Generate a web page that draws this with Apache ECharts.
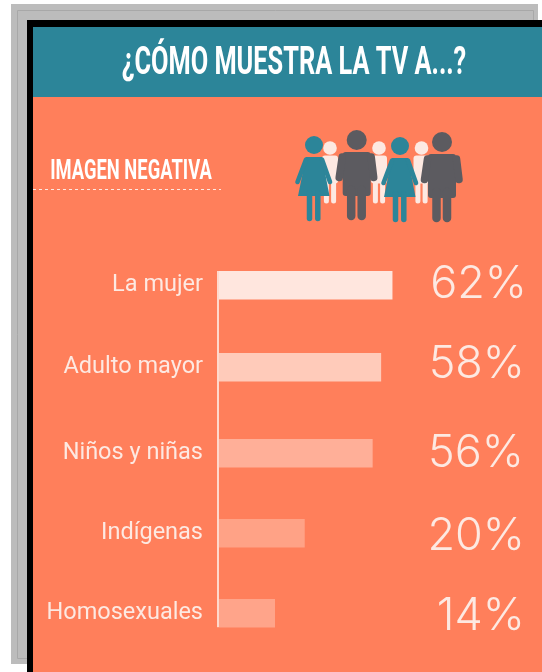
<!DOCTYPE html>
<html><head><meta charset="utf-8">
<style>html,body{margin:0;padding:0;background:#fff}#c{width:542px;height:672px}</style>
<script src="https://cdn.jsdelivr.net/npm/echarts@6/dist/echarts.min.js"></script>
</head><body><div id="c"></div>
<script>
const title = '¿CÓMO MUESTRA LA TV A...?';
const subtitle = 'IMAGEN NEGATIVA';
const categories = ['La mujer', 'Adulto mayor', 'Niños y niñas', 'Indígenas', 'Homosexuales'];
// Printed percentages
const printedValues = [62, 58, 56, 20, 14];
// Bar lengths as drawn in the picture (the original's short bars are not to scale with their labels)
const barLengths = [62, 58, 55, 31, 20.5];
const barColors = ['#ffe6de', '#ffcbba', '#ffaf98', '#ffa286', '#ffa48a'];

// layout
const rowTops = [271, 353, 439, 519, 599];
const rowH = 28.5;
const valueY = [284, 364, 453, 536, 616];
const valueRight = [527, 525, 524, 525, 525];
const catShift = [4, 4, 6, 3, 6];
const CREAM = '#fde9e2', TEAL = '#2c8599', DARK = '#5c5b60', ORANGE = '#ff7f5b';

const chart = echarts.init(document.getElementById('c'), null, {renderer: 'canvas'});

const line = (pts, color, w) => ({type: 'polyline', shape: {points: pts}, style: {stroke: color, lineWidth: w, lineCap: 'round', lineJoin: 'round', fill: null}});
const poly = (pts, color) => ({type: 'polygon', shape: {points: pts}, style: {fill: color}});
const head = (r, color) => ({type: 'circle', shape: {cx: 0, cy: 0, r}, style: {fill: color}});

function child(x, y) {
  return {type: 'group', x, y, children: [
    head(6.8, CREAM),
    {type: 'rect', shape: {x: -8, y: 7.5, width: 16, height: 28, r: 3}, style: {fill: CREAM}},
    line([[-3.6, 30], [-3.6, 53]], CREAM, 5), line([[3.6, 30], [3.6, 53]], CREAM, 5)
  ]};
}
function woman(x, y) {
  return {type: 'group', x, y, children: [
    head(9, TEAL),
    poly([[-8, 12], [8, 12], [15.5, 51], [-16, 51]], TEAL),
    line([[-8, 14.5], [-16.5, 37]], TEAL, 4.6), line([[8, 14.5], [16, 37]], TEAL, 4.6),
    line([[-4.5, 48], [-4.5, 73.5]], TEAL, 5.5), line([[3.8, 48], [3.8, 73.5]], TEAL, 5.5)
  ]};
}
function man(x, y) {
  return {type: 'group', x, y, children: [
    head(10, DARK),
    {type: 'rect', shape: {x: -14, y: 12, width: 28, height: 44, r: 3}, style: {fill: DARK}},
    line([[-14.5, 17], [-17.5, 37.5]], DARK, 7.5), line([[14.5, 17], [17, 37.5]], DARK, 7.5),
    line([[-5.5, 50], [-5.5, 76]], DARK, 8.5), line([[5, 50], [5, 76]], DARK, 8.5)
  ]};
}

const graphic = [
  {type: 'rect', z: -10, shape: {x: 11, y: 4, width: 527, height: 660}, style: {fill: '#bcbcbc'}},
  {type: 'rect', z: -10, shape: {x: 17.5, y: 10.5, width: 516, height: 648}, style: {fill: 'none', stroke: '#a8a8a8', lineWidth: 1}},
  {type: 'rect', z: -9, shape: {x: 27, y: 20, width: 515, height: 652}, style: {fill: '#000'}},
  {type: 'rect', z: -8, shape: {x: 33, y: 27, width: 509, height: 645}, style: {fill: ORANGE}},
  {type: 'rect', z: -7, shape: {x: 33, y: 27, width: 509, height: 70}, style: {fill: TEAL}},
  {type: 'text', z: 5, x: 294, y: 64, scaleX: 0.65, style: {text: title, fill: '#fff', font: 'bold 39px Roboto', align: 'center', verticalAlign: 'middle'}},
  {type: 'text', z: 5, x: 131, y: 172, scaleX: 0.68, style: {text: subtitle, fill: '#fff', font: 'bold 27px Roboto', align: 'center', verticalAlign: 'middle'}},
  {type: 'line', z: 5, shape: {x1: 33, y1: 189.5, x2: 221, y2: 189.5}, style: {stroke: '#fde9e2', lineWidth: 1, lineDash: [3, 3]}},
  {type: 'line', z: 20, shape: {x1: 218, y1: 271, x2: 218, y2: 627}, style: {stroke: '#ffd9cd', lineWidth: 2}},
  child(330, 148), child(379, 148), child(421.5, 148),
  man(356.7, 140), man(442, 142),
  woman(314, 145), woman(400, 146)
];

chart.setOption({
  animation: false,
  backgroundColor: 'transparent',
  graphic,
  grid: rowTops.map(t => ({left: 217, top: t, width: 283, height: rowH})),
  xAxis: categories.map((c, i) => ({gridIndex: i, type: 'value', min: 0, max: 100, show: false})),
  yAxis: categories.map((c, i) => ({
    gridIndex: i, type: 'category', data: [c],
    axisLine: {show: false}, axisTick: {show: false},
    axisLabel: {color: CREAM, fontFamily: 'Roboto', fontWeight: 400, fontSize: 23.5, margin: 14, padding: [0, 0, catShift[i], 0]}
  })),
  series: categories.map((c, i) => ({
    type: 'bar', xAxisIndex: i, yAxisIndex: i, barWidth: '100%',
    data: [{value: barLengths[i], itemStyle: {color: barColors[i]}}],
    label: {show: true, formatter: printedValues[i] + '%', color: CREAM, fontFamily: 'Inter', fontWeight: 300, fontSize: 45},
    labelLayout: {x: valueRight[i], y: valueY[i], align: 'right', verticalAlign: 'middle'}
  }))
});
</script></body></html>
